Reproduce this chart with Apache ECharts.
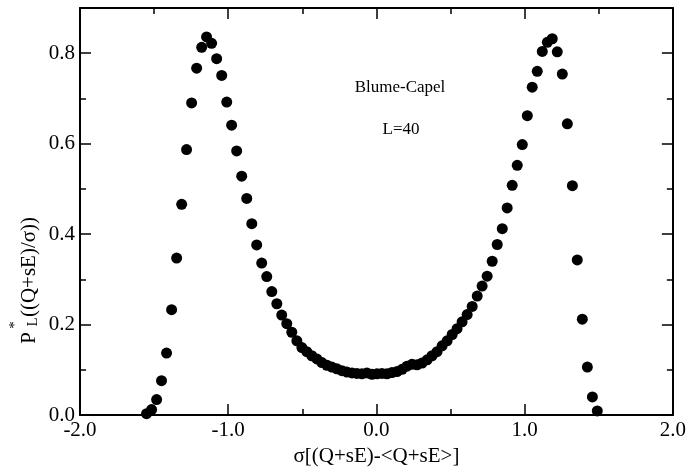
<!DOCTYPE html>
<html>
<head>
<meta charset="utf-8">
<script src="https://cdn.jsdelivr.net/npm/echarts@6/dist/echarts.min.js"></script>
<style>
  html, body { margin: 0; padding: 0; background: #fff; }
  #chart { width: 689px; height: 472px; }
</style>
</head>
<body>
<div id="chart"></div>
<script>
// Order parameter distribution, Blume-Capel model, L = 40
const xValues = [
  -1.551, -1.517, -1.483, -1.450, -1.416, -1.382, -1.348, -1.314, -1.281, -1.247,
  -1.213, -1.179, -1.146, -1.112, -1.078, -1.044, -1.010, -0.977, -0.943, -0.909,
  -0.875, -0.841, -0.808, -0.774, -0.740, -0.706, -0.672, -0.639, -0.605, -0.571,
  -0.537, -0.503, -0.470, -0.436, -0.402, -0.368, -0.334, -0.301, -0.267, -0.233,
  -0.199, -0.165, -0.132, -0.098, -0.064, -0.030, 0.004, 0.037, 0.071, 0.105,
  0.139, 0.173, 0.206, 0.240, 0.274, 0.308, 0.342, 0.375, 0.409, 0.443,
  0.477, 0.511, 0.544, 0.578, 0.612, 0.646, 0.680, 0.713, 0.747, 0.781,
  0.815, 0.849, 0.882, 0.916, 0.950, 0.984, 1.018, 1.051, 1.085, 1.119,
  1.153, 1.186, 1.220, 1.254, 1.288, 1.322, 1.355, 1.389, 1.423, 1.457,
  1.490
];
const pValues = [
  0.003, 0.012, 0.034, 0.076, 0.137, 0.233, 0.347, 0.466, 0.587, 0.690,
  0.767, 0.813, 0.836, 0.822, 0.788, 0.751, 0.692, 0.641, 0.584, 0.528,
  0.479, 0.423, 0.376, 0.336, 0.306, 0.273, 0.246, 0.221, 0.202, 0.183,
  0.164, 0.149, 0.140, 0.131, 0.124, 0.116, 0.110, 0.106, 0.102, 0.098,
  0.095, 0.093, 0.092, 0.091, 0.093, 0.090, 0.091, 0.092, 0.091, 0.094,
  0.096, 0.101, 0.108, 0.112, 0.111, 0.115, 0.122, 0.131, 0.140, 0.153,
  0.164, 0.178, 0.191, 0.206, 0.222, 0.240, 0.263, 0.285, 0.307, 0.340,
  0.377, 0.412, 0.458, 0.508, 0.552, 0.598, 0.662, 0.725, 0.760, 0.804,
  0.824, 0.832, 0.803, 0.754, 0.644, 0.507, 0.343, 0.212, 0.106, 0.040,
  0.009
];
const xTicks = { min: -2, max: 2, step: 1 };
const yTicks = { min: 0, max: 0.9, step: 0.2, minorStep: 0.1 };

const FONT = 'Liberation Serif';
const ink = '#000';

const points = xValues.map((x, i) => [x, pValues[i]]);

const lineStyle = { color: ink, width: 2 };

function xAxisDef(pos, labels) {
  return {
    type: 'value', position: pos, min: xTicks.min, max: xTicks.max, interval: xTicks.step,
    axisLine: { show: true, onZero: false, lineStyle },
    axisTick: { show: true, inside: true, length: 11, lineStyle: { color: ink, width: 1.5 } },
    minorTick: { show: true, splitNumber: 2, length: 6, lineStyle: { color: ink, width: 1.5 } },
    splitLine: { show: false }, minorSplitLine: { show: false },
    axisLabel: {
      show: labels, margin: 5, color: ink, fontFamily: FONT, fontSize: 21,
      showMinLabel: true, showMaxLabel: true,
      formatter: v => v.toFixed(1)
    },
    name: labels ? 'σ[(Q+sE)-<Q+sE>]' : '',
    nameLocation: 'middle', nameGap: 31,
    nameTextStyle: { color: ink, fontFamily: FONT, fontSize: 21 }
  };
}

function yAxisDef(pos, major, labels) {
  return {
    type: 'value', position: pos, min: yTicks.min, max: yTicks.max,
    interval: major ? yTicks.step : yTicks.minorStep,
    axisLine: { show: major, onZero: false, lineStyle },
    axisTick: { show: true, inside: true, length: major ? 11 : 6, lineStyle: { color: ink, width: 1.5 } },
    splitLine: { show: false },
    axisLabel: {
      show: labels, margin: 5, color: ink, fontFamily: FONT, fontSize: 21,
      showMinLabel: true, showMaxLabel: false,
      formatter: v => (v > 0.85 ? '' : v.toFixed(1))
    }
  };
}

const chart = echarts.init(document.getElementById('chart'), null, { renderer: 'canvas' });
chart.setOption({
  backgroundColor: '#fff',
  animation: false,
  grid: { left: 80, right: 15, top: 8, bottom: 48, containLabel: false },
  xAxis: [xAxisDef('bottom', true), xAxisDef('top', false)],
  yAxis: [
    yAxisDef('left', true, true),
    yAxisDef('left', false, false),
    yAxisDef('right', true, false),
    yAxisDef('right', false, false)
  ],
  graphic: [
    { type: 'text', left: 'center', x: 0, style: { text: '' } },
    { type: 'text', x: 400, y: 88, style: { text: 'Blume-Capel', fill: ink, font: '17px "Liberation Serif"', align: 'center', verticalAlign: 'middle' } },
    { type: 'text', x: 401, y: 130, style: { text: 'L=40', fill: ink, font: '17px "Liberation Serif"', align: 'center', verticalAlign: 'middle' } },
    // rotated y-axis title: P, superscript *, subscript L, then the argument
    { type: 'text', x: 29, y: 338, rotation: Math.PI / 2, style: { text: 'P', fill: ink, font: '21px "Liberation Serif"', align: 'center', verticalAlign: 'middle' } },
    { type: 'text', x: 15, y: 325, rotation: Math.PI / 2, style: { text: '*', fill: ink, font: '15px "Liberation Serif"', align: 'center', verticalAlign: 'middle' } },
    { type: 'text', x: 33, y: 322, rotation: Math.PI / 2, style: { text: 'L', fill: ink, font: '15px "Liberation Serif"', align: 'center', verticalAlign: 'middle' } },
    { type: 'text', x: 29, y: 267, rotation: Math.PI / 2, style: { text: '((Q+sE)/σ))', fill: ink, font: '21px "Liberation Serif"', align: 'center', verticalAlign: 'middle' } }
  ],
  series: [{
    type: 'scatter',
    xAxisIndex: 0, yAxisIndex: 0,
    data: points,
    symbol: 'circle', symbolSize: 11,
    itemStyle: { color: ink, opacity: 1 },
    emphasis: { disabled: true }
  }]
});
</script>
</body>
</html>
